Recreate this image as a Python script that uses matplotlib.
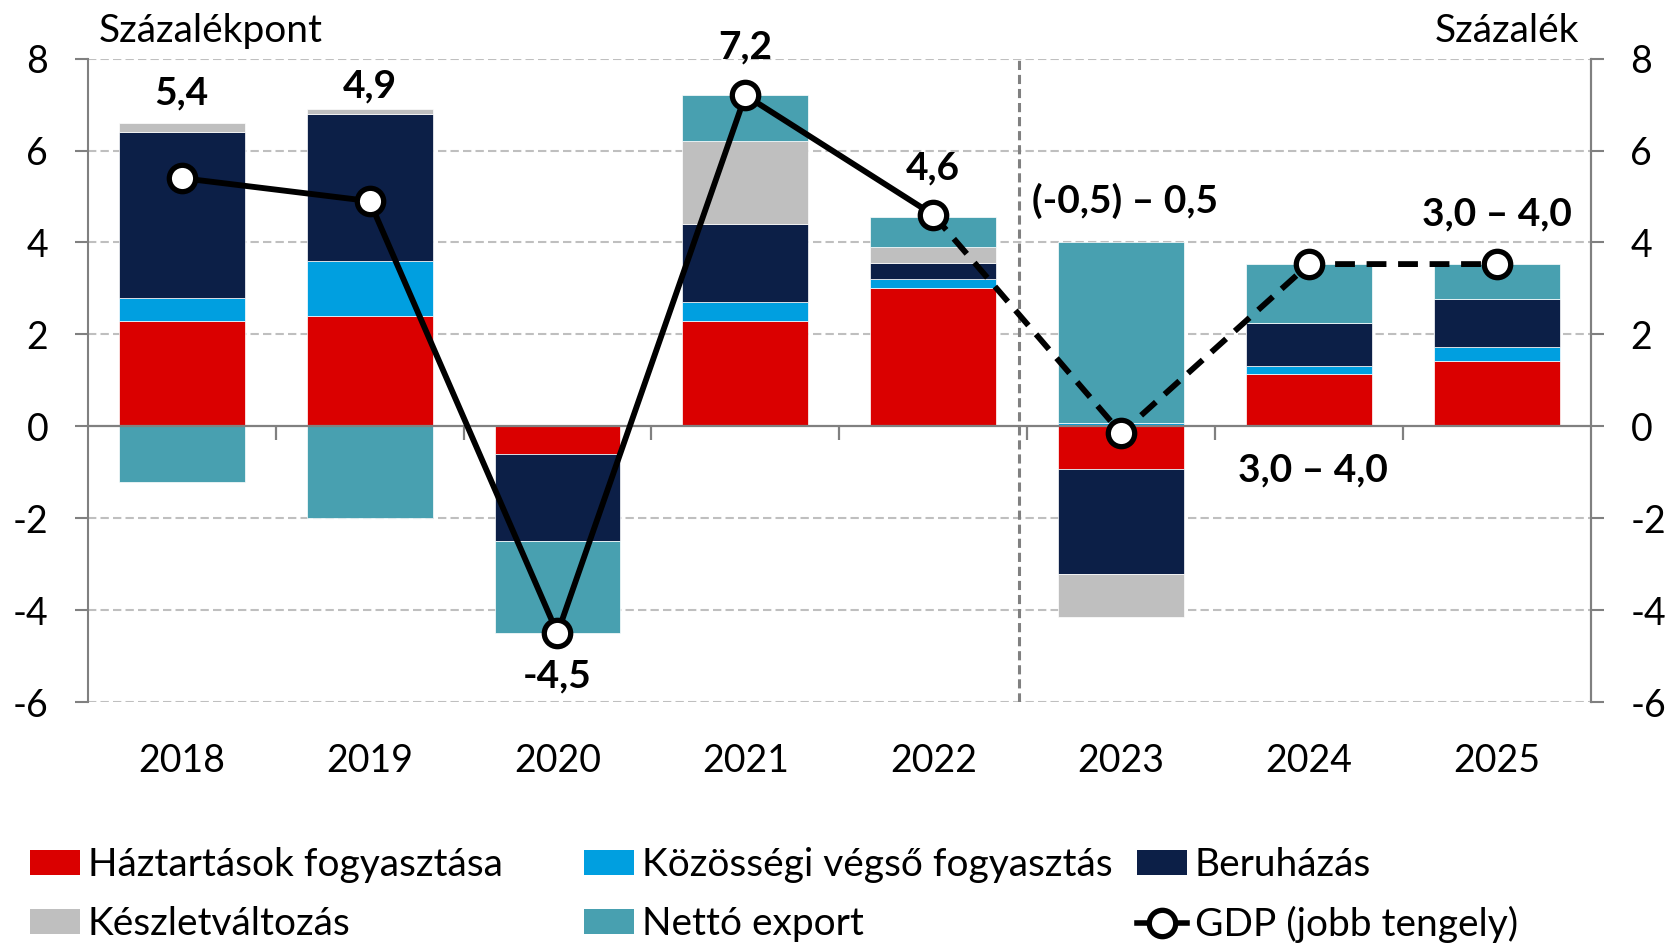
import numpy as np
import matplotlib
matplotlib.use("Agg")
import matplotlib.pyplot as plt
from matplotlib.patches import Patch
from matplotlib.lines import Line2D

plt.rcParams['font.family'] = ['Lato', 'DejaVu Sans']

# ---------------- data ----------------
years = ['2018', '2019', '2020', '2021', '2022', '2023', '2024', '2025']
haztartas = [2.3, 2.4, -0.6, 2.3, 3.0, -0.93, 1.14, 1.43]
kozossegi = [0.5, 1.2, 0.0, 0.4, 0.2, 0.08, 0.18, 0.29]
beruhazas = [3.6, 3.2, -1.9, 1.7, 0.35, -2.27, 0.93, 1.05]
keszlet = [0.2, 0.1, 0.0, 1.8, 0.35, -0.95, 0.0, 0.0]
netto_export = [-1.2, -2.0, -2.0, 1.0, 0.65, 3.92, 1.28, 0.76]
gdp = [5.4, 4.9, -4.5, 7.2, 4.6, -0.15, 3.53, 3.53]
gdp_labels = ['5,4', '4,9', '-4,5', '7,2', '4,6', '(-0,5) – 0,5', '3,0 – 4,0', '3,0 – 4,0']

series_names = ['Háztartások fogyasztása', 'Közösségi végső fogyasztás', 'Beruházás',
                'Készletváltozás', 'Nettó export']
gdp_name = 'GDP (jobb tengely)'
left_unit = 'Százalékpont'
right_unit = 'Százalék'
yticks = [-6, -4, -2, 0, 2, 4, 6, 8]

# ---------------- styles ----------------
colors = ['#DA0000', '#009FE0', '#0C1F47', '#BFBFBF', '#48A0B0']
label_offsets = [(0, 61), (0, 83), (0, -31), (0, 35), (0, 34), (3, 167), (3, -148), (0, 36)]
grid_col = '#BFBFBF'
axis_col = '#808080'
fs_tick = 27
fs_ann = 28
fs_unit = 28
fs_leg = 28

fig = plt.figure(figsize=(16.67, 9.44), dpi=100)
ax = fig.add_axes([0.0526, 0.256, 0.9018, 0.682])
x = np.arange(len(years))

series = [haztartas, kozossegi, beruhazas, keszlet, netto_export]
pos_base = np.zeros(len(years))
neg_base = np.zeros(len(years))
for vals, c in zip(series, colors):
    v = np.array(vals, dtype=float)
    base = np.where(v >= 0, pos_base, neg_base)
    ax.bar(x, v, 0.67, bottom=base, color=c, edgecolor='white', linewidth=0.5, zorder=3)
    pos_base = pos_base + np.where(v >= 0, v, 0)
    neg_base = neg_base + np.where(v < 0, v, 0)

ax.set_xlim(-0.5, len(years) - 0.5)
ax.set_ylim(-6, 8)
ax.set_yticks(yticks)
ax.set_yticklabels([str(t) for t in yticks])
for t in yticks:
    if t != 0:
        ax.axhline(t, color=grid_col, lw=1.5, ls=(0, (4, 2)), zorder=1)
ax.axhline(0, color=axis_col, lw=1.6, zorder=4)
bounds = np.arange(len(years) + 1) - 0.5
ax.vlines(bounds[1:-1], 0, -0.29, color=axis_col, lw=1.6, zorder=4)
ax.axvline(4.458, color=axis_col, lw=2.2, ls=(0, (3, 1.6)), zorder=2)

ax.set_xticks(x)
ax.set_xticklabels(years, fontsize=fs_tick)
ax.tick_params(axis='x', length=0, pad=29)
for s in ['top', 'bottom']:
    ax.spines[s].set_visible(False)
for s in ['left', 'right']:
    ax.spines[s].set_color(axis_col)
    ax.spines[s].set_linewidth(1.5)
ax.tick_params(axis='y', length=9.4, width=1.5, color=axis_col, pad=19, labelsize=fs_tick)

ax2 = ax.twinx()
ax2.set_ylim(-6, 8)
ax2.set_yticks(yticks)
ax2.set_yticklabels([str(t) for t in yticks])
ax2.tick_params(axis='y', length=9.4, width=1.5, color=axis_col, pad=19, labelsize=fs_tick)
for s in ['top', 'bottom', 'left']:
    ax2.spines[s].set_visible(False)
ax2.spines['right'].set_color(axis_col)
ax2.spines['right'].set_linewidth(1.5)

mk = dict(marker='o', markersize=19, markerfacecolor='white', markeredgecolor='black',
          markeredgewidth=3.8)
ax2.plot(x[:5], gdp[:5], color='black', lw=4.2, solid_capstyle='round', zorder=5)
ax2.plot(x[4:], gdp[4:], color='black', lw=4.2, ls=(0, (3.4, 2)), zorder=5)
ax2.plot(x, gdp, ls='none', zorder=6, **mk)

for i, (lab, off) in enumerate(zip(gdp_labels, label_offsets)):
    ax2.annotate(lab, (x[i], gdp[i]), xytext=off, textcoords='offset points',
                 ha='center', va='center', fontsize=fs_ann, fontweight='bold', zorder=7)

fig.text(99 / 1667, 1 - 31 / 944, left_unit, fontsize=fs_unit, ha='left', va='center')
fig.text(1579 / 1667, 1 - 31 / 944, right_unit, fontsize=fs_unit, ha='right', va='center')

# ---------------- legend ----------------
patches = [Patch(facecolor=c, edgecolor='none') for c in colors]
gdp_handle = Line2D([0], [0], color='black', lw=4, **mk)
cols = [
    ([patches[0], patches[3]], [series_names[0], series_names[3]], 30),
    ([patches[1], patches[4]], [series_names[1], series_names[4]], 584),
    ([patches[2], gdp_handle], [series_names[2], gdp_name], 1137),
]
for hs, ls_, xp in cols:
    fig.legend(hs, ls_, loc='upper left', bbox_to_anchor=(xp / 1667, 1 - 847 / 944),
               frameon=False, fontsize=fs_leg, handlelength=1.29, handleheight=0.62,
               handletextpad=0.2, labelspacing=0.6, borderpad=0, borderaxespad=0)

fig.savefig('out.png', dpi=100)
